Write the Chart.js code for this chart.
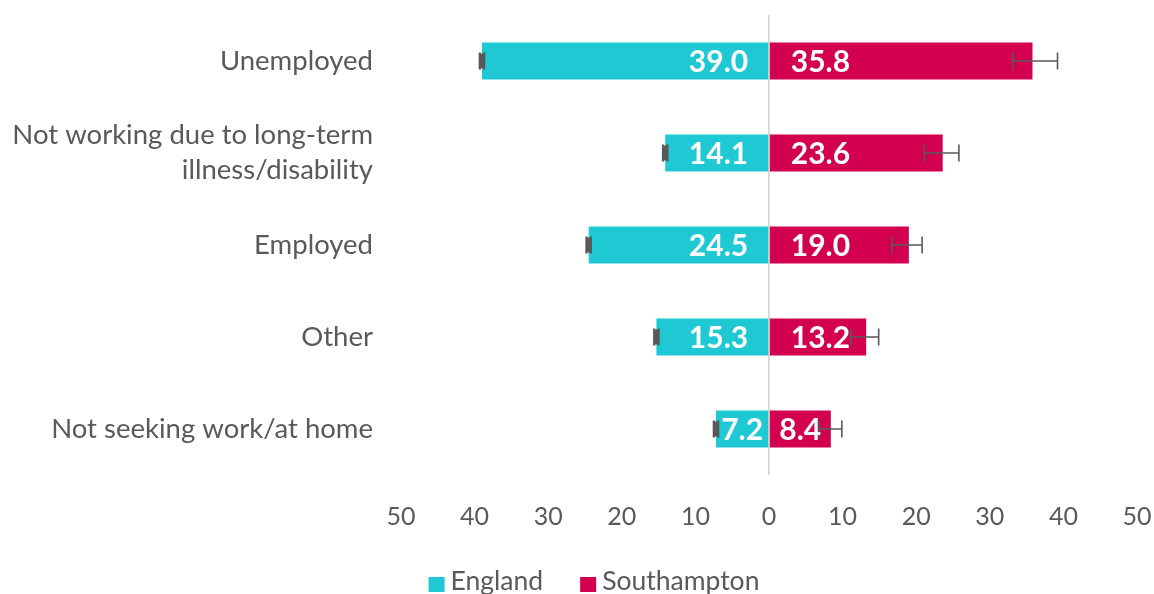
<!DOCTYPE html>
<html>
<head>
<meta charset="utf-8">
<script src="https://cdn.jsdelivr.net/npm/chart.js@4.4.0/dist/chart.umd.min.js"></script>
<style>
  html, body { margin: 0; padding: 0; background: #ffffff; }
  #wrap { width: 1154px; height: 594px; }
</style>
</head>
<body>
<div id="wrap"><canvas id="c" width="1154" height="594"></canvas></div>
<script>
// ---- data ----
const categories = [
  "Unemployed",
  ["Not working due to long-term", "illness/disability"],
  "Employed",
  "Other",
  "Not seeking work/at home"
];
const englandValues     = [39.0, 14.1, 24.5, 15.3, 7.2];
const englandLower      = [38.7, 13.8, 24.2, 15.0, 6.9];
const englandUpper      = [39.3, 14.4, 24.8, 15.6, 7.5];
const southamptonValues = [35.8, 23.6, 19.0, 13.2, 8.4];
const southamptonLower  = [33.1, 21.1, 16.7, 11.1, 6.8];
const southamptonUpper  = [39.2, 25.8, 20.8, 14.9, 9.9];
const seriesNames = ["England", "Southampton"];
const tickValues = [-50, -40, -30, -20, -10, 0, 10, 20, 30, 40, 50];

const COL_ENG = '#1FC9D3';
const COL_SOU = '#D3004F';
const TEXT_GREY = '#595959';

// England drawn to the left (negative)
const datasets = [
  {
    label: seriesNames[0],
    data: englandValues.map(v => -v),
    backgroundColor: COL_ENG,
    lower: englandLower, upper: englandUpper, sign: -1, shown: englandValues
  },
  {
    label: seriesNames[1],
    data: southamptonValues,
    backgroundColor: COL_SOU,
    lower: southamptonLower, upper: southamptonUpper, sign: 1, shown: southamptonValues
  }
];

const errorBars = {
  id: 'errorBars',
  afterDatasetsDraw(chart) {
    const ctx = chart.ctx;
    const xs = chart.scales.x;
    ctx.save();
    ctx.strokeStyle = TEXT_GREY;
    chart.data.datasets.forEach((ds, d) => {
      const meta = chart.getDatasetMeta(d);
      meta.data.forEach((el, i) => {
        const y = el.y;
        const a = xs.getPixelForValue(ds.sign * ds.lower[i]);
        const b = xs.getPixelForValue(ds.sign * ds.upper[i]);
        const cap = 8.5;
        ctx.lineWidth = ds.sign < 0 ? 2.2 : 1.6;
        ctx.beginPath();
        ctx.moveTo(a, y); ctx.lineTo(b, y);
        ctx.moveTo(a, y - cap); ctx.lineTo(a, y + cap);
        ctx.moveTo(b, y - cap); ctx.lineTo(b, y + cap);
        ctx.stroke();
        if (ds.sign < 0) {
          ctx.fillStyle = TEXT_GREY;
          ctx.fillRect(Math.min(a, b), y - cap + 1, Math.abs(b - a), 2 * cap - 2);
        }
      });
    });
    ctx.restore();
  }
};

const barLabels = {
  id: 'barLabels',
  afterDatasetsDraw(chart) {
    const ctx = chart.ctx;
    ctx.save();
    ctx.font = 'bold 30px Lato';
    ctx.fillStyle = '#ffffff';
    ctx.textBaseline = 'middle';
    ctx.textAlign = 'left';
    chart.data.datasets.forEach((ds, d) => {
      const meta = chart.getDatasetMeta(d);
      meta.data.forEach((el, i) => {
        const txt = ds.shown[i].toFixed(1);
        const w = ctx.measureText(txt).width;
        const base = el.base, end = el.x;
        let left;
        if (ds.sign < 0) {
          left = base - 20 - w;
          if (left < end + 2) left = (base + end) / 2 - w / 2;
        } else {
          left = base + 21;
          if (left + w > end - 2) left = (base + end) / 2 - w / 2;
        }
        ctx.fillText(txt, left, el.y + 1);
      });
    });
    ctx.restore();
  }
};

const customLegend = {
  id: 'customLegend',
  afterDraw(chart) {
    const ctx = chart.ctx;
    ctx.save();
    ctx.font = '26.5px Lato';
    ctx.textBaseline = 'middle';
    const boxW = 16, boxH = 15, gap = 6, itemGap = 37;
    const items = chart.data.datasets.map(ds => ({ text: ds.label, color: ds.backgroundColor, w: ctx.measureText(ds.label).width }));
    const total = items.reduce((s, it) => s + boxW + gap + it.w, 0) + itemGap * (items.length - 1);
    let x = 594 - total / 2;
    const yc = 581;
    items.forEach(it => {
      ctx.fillStyle = it.color;
      ctx.fillRect(x, yc - 4, boxW, boxH);
      ctx.fillStyle = TEXT_GREY;
      ctx.fillText(it.text, x + boxW + gap, yc);
      x += boxW + gap + it.w + itemGap;
    });
    ctx.restore();
  }
};

new Chart(document.getElementById('c'), {
  type: 'bar',
  data: { labels: categories, datasets },
  options: {
    indexAxis: 'y',
    responsive: false,
    animation: false,
    maintainAspectRatio: false,
    layout: { padding: { top: 15, right: 17, left: 0, bottom: 0 } },
    datasets: { bar: { categoryPercentage: 1, barPercentage: 0.402 } },
    plugins: {
      legend: { display: false },
      tooltip: { enabled: false }
    },
    scales: {
      x: {
        stacked: true,
        min: -50, max: 50,
        afterBuildTicks(s) { s.ticks = tickValues.map(v => ({ value: v })); },
        afterFit(s) {
          s.height = 119;
          s.paddingLeft = 0; s.paddingRight = 0; s.paddingTop = 0; s.paddingBottom = 0;
        },
        ticks: {
          callback: v => Math.abs(v),
          font: { family: 'Lato', size: 25 },
          color: TEXT_GREY,
          padding: 27,
          maxRotation: 0
        },
        grid: {
          drawTicks: false,
          color: c => (c.tick && c.tick.value === 0) ? '#d4d4d4' : 'rgba(0,0,0,0)',
          lineWidth: 1.6
        },
        border: { display: false }
      },
      y: {
        stacked: true,
        afterFit(s) {
          s.width = 401;
          s.paddingLeft = 0; s.paddingRight = 0; s.paddingTop = 0; s.paddingBottom = 0;
        },
        ticks: {
          font: { family: 'Lato', size: 27.5, lineHeight: 1.27 },
          color: TEXT_GREY,
          padding: 28
        },
        grid: { display: false, drawTicks: false },
        border: { display: false }
      }
    }
  },
  plugins: [errorBars, barLabels, customLegend]
});
</script>
</body>
</html>
